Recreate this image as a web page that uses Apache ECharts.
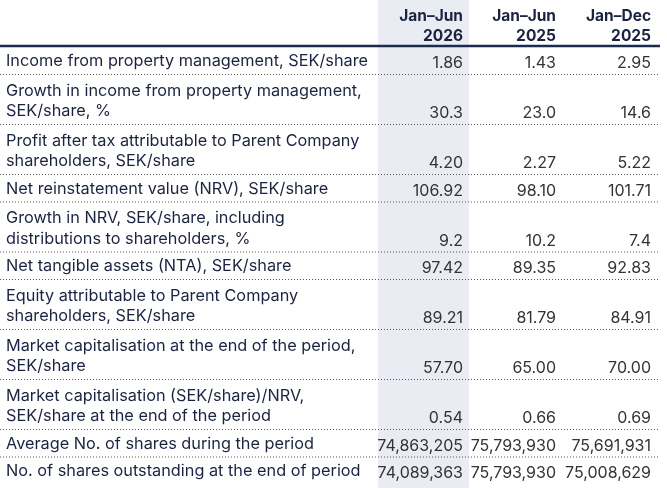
<!DOCTYPE html><html><head><meta charset="utf-8"><script src="https://cdn.jsdelivr.net/npm/echarts@6/dist/echarts.min.js"></script>
<style>html,body{margin:0;background:#fff}#c{width:667px;height:488px}</style></head><body><div id="c"></div>
<script>
const headers=["Jan–Jun\n2026","Jan–Jun\n2025","Jan–Dec\n2025"];
const labels=["Income from property management, SEK/share","Growth in income from property management,\nSEK/share, %","Profit after tax attributable to Parent Company\nshareholders, SEK/share","Net reinstatement value (NRV), SEK/share","Growth in NRV, SEK/share, including\ndistributions to shareholders, %","Net tangible assets (NTA), SEK/share","Equity attributable to Parent Company\nshareholders, SEK/share","Market capitalisation at the end of the period,\nSEK/share","Market capitalisation (SEK/share)/NRV,\nSEK/share at the end of the period","Average No. of shares during the period","No. of shares outstanding at the end of period"];
const col2026=["1.86","30.3","4.20","106.92","9.2","97.42","89.21","57.70","0.54","74,863,205","74,089,363"];
const col2025h=["1.43","23.0","2.27","98.10","10.2","89.35","81.79","65.00","0.66","75,793,930","75,793,930"];
const col2025=["2.95","14.6","5.22","101.71","7.4","92.83","84.91","70.00","0.69","75,691,931","75,008,629"];
const cols=[col2026,col2025h,col2025];
const colRight=[463,556,651];
const font='"Inter","Noto Sans",sans-serif';
const els=[];
els.push({type:'rect',shape:{x:378,y:0,width:91,height:488},style:{fill:'#e9ecf3'},z:0});
headers.forEach((h,i)=>els.push({type:'text',x:colRight[i],y:6,style:{text:h,font:'bold 15.5px '+font,fill:'#1b2340',align:'right',verticalAlign:'top',lineHeight:20},z:2}));
els.push({type:'line',shape:{x1:0,y1:46,x2:660,y2:46},style:{stroke:'#1b2b4d',lineWidth:2.5},z:3});
let y=47;
labels.forEach((l,r)=>{
  const two=l.indexOf('\n')>=0;const h=two?50:27.5;
  els.push({type:'text',x:6,y:y+h-3,style:{text:l,font:'16.3px '+font,fill:'#1b2340',align:'left',verticalAlign:'bottom',lineHeight:20.5},z:2});
  cols.forEach((c,i)=>els.push({type:'text',x:colRight[i],y:y+h-3,style:{text:c[r],font:'16px '+font,fill:'#333',align:'right',verticalAlign:'bottom'},z:2}));
  y+=h;
  if(r<labels.length-1)els.push({type:'line',shape:{x1:0,y1:y,x2:660,y2:y},style:{stroke:'#555',lineWidth:1,lineDash:[1,2]},z:3});
});
const ch=echarts.init(document.getElementById('c'));
ch.setOption({animation:false,graphic:{elements:els}});
</script></body></html>
